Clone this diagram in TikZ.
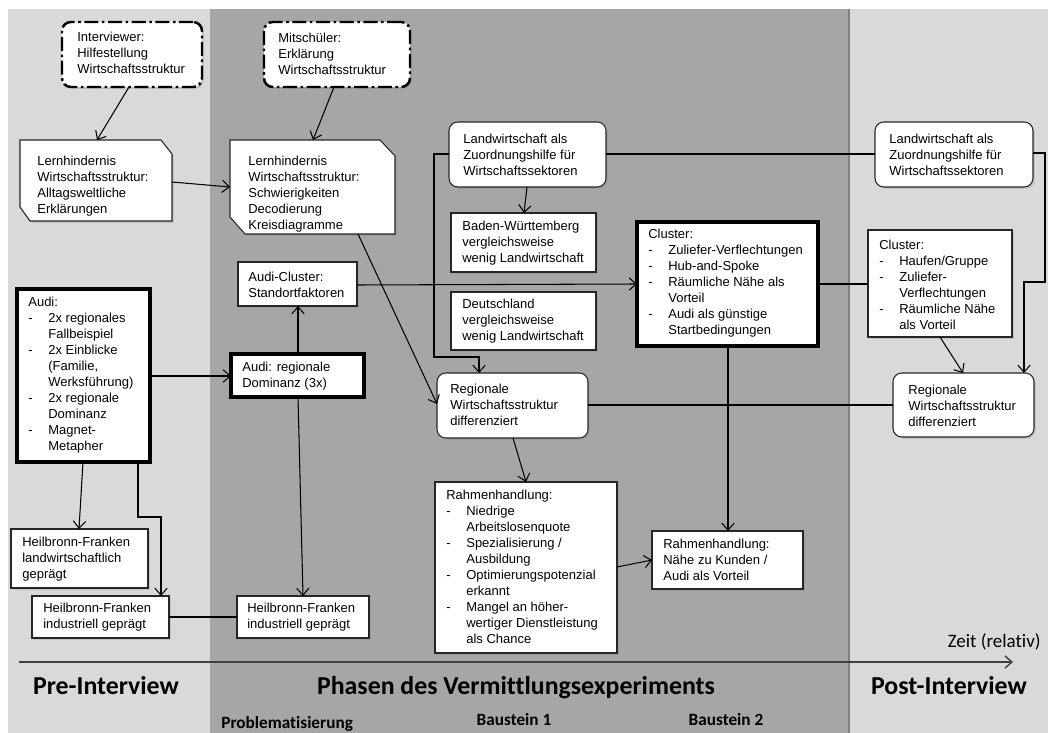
\documentclass[tikz,border=0pt]{standalone}
\usepackage{fontspec}
\setmainfont{Liberation Sans}
\newfontfamily\headfont{Carlito}[Ligatures=NoCommon]
\usetikzlibrary{calc,arrows.meta,shadows}
\definecolor{lg}{HTML}{D9D9D9}
\definecolor{dg}{HTML}{A6A6A6}
\newcommand\itm{\makebox[0.4cm][l]{-}}
\newcommand\ind{\hspace*{0.4cm}}
\newcommand\B[6]{\node[#2, minimum width={(#5-#3)*0.02cm}, minimum height={(#6-#4)*0.02cm}] (#1) at ({(#3+#5)/2},{(#4+#6)/2}) {};}
\newcommand\T[4]{\node[txt] (#1) at (#2,#3) {#4};}
\begin{document}
\begin{tikzpicture}[x=0.02cm, y=-0.02cm,
  >={Straight Barb[length=4pt,width=7pt]},
  shd/.style={drop shadow={shadow xshift=1pt,shadow yshift=-1pt,opacity=0.25}},
  box/.style={draw=black!85, fill=white, line width=0.6pt, shd, inner sep=0pt, outer sep=0pt},
  rbox/.style={box, rounded corners=5pt},
  tbox/.style={box, line width=1.8pt, draw=black},
  ddbox/.style={box, rounded corners=5pt, line width=1.4pt, draw=black, dash pattern=on 8pt off 2pt on 1.5pt off 2pt},
  ghost/.style={inner sep=0pt, outer sep=0pt},
  chamf/.style={draw=black!85, fill=white, line width=0.6pt, shd},
  txt/.style={anchor=west, align=left, inner sep=0pt, font=\fontsize{7.4}{9.1}\selectfont},
  con/.style={draw=black, line width=0.6pt},
  head/.style={inner sep=0pt, anchor=base, font=\headfont\bfseries\fontsize{14.7}{16}\selectfont},
  sub/.style={inner sep=0pt, anchor=base, font=\headfont\bfseries\fontsize{9.8}{11}\selectfont},
  zeit/.style={inner sep=0pt, anchor=base east, font=\headfont\fontsize{10.8}{12}\selectfont}
]
\useasboundingbox (0,0) rectangle (1048,733);
% background panels
\fill[white] (0,0) rectangle (1048,733);
\fill[lg] (8,9) rectangle (210,733);
\fill[dg] (210,9) rectangle (849,733);
\fill[lg] (849,9) rectangle (1048,733);
\draw[black!50, line width=0.6pt] (849,9) -- (849,733);

% boxes
\B{intv}{ddbox}{62}{22}{202}{87}
\B{mits}{ddbox}{264}{22}{410}{87}
\B{lhl}{ghost}{20}{140}{172}{221}
\filldraw[chamf] (lhl.north west) -- ($(lhl.north east)+(-11,0)$) -- ($(lhl.north east)+(0,14)$) -- (lhl.south east) -- ($(lhl.south west)+(10,0)$) -- ($(lhl.south west)+(0,-14)$) -- cycle;
\B{lhm}{ghost}{230}{140}{395}{234}
\filldraw[chamf] (lhm.north west) -- ($(lhm.north east)+(-15,0)$) -- ($(lhm.north east)+(0,16)$) -- (lhm.south east) -- ($(lhm.south west)+(15,0)$) -- ($(lhm.south west)+(0,-17)$) -- cycle;
\B{lwm}{rbox}{449}{122}{606}{187}
\B{bw}{box}{451}{213}{596}{272}
\B{de}{box}{451}{292}{596}{350}
\B{clm}{tbox}{637}{222}{818}{346}
\B{lwr}{rbox}{875}{122}{1033}{187}
\B{clr}{box}{868}{230}{1012}{337}
\B{rwr}{rbox}{893}{373}{1034}{437}
\B{acl}{box}{238}{262}{357}{306}
\B{audi}{tbox}{17}{289}{150}{462}
\B{adom}{tbox}{231}{354}{364}{397}
\B{hfl}{box}{11}{529}{148}{588}
\B{hfi}{box}{32}{596}{169}{638}
\B{hfm}{box}{237}{596}{369}{638}
\B{rwm}{rbox}{437}{373}{588}{438}
\B{rhl}{box}{435}{482}{617}{653}
\B{rhr}{box}{652}{531}{803}{589}

% texts
\T{intv-t}{77}{53}{Interviewer:\\Hilfestellung\\Wirtschaftsstruktur}
\T{mits-t}{278}{54}{Mitschüler:\\Erklärung\\Wirtschaftsstruktur}
\T{lhl-t}{37}{186.5}{Lernhindernis\\Wirtschaftsstruktur:\\Alltagsweltliche\\Erklärungen}
\T{lhm-t}{248}{194.5}{Lernhindernis\\Wirtschaftsstruktur:\\Schwierigkeiten\\Decodierung\\Kreisdiagramme}
\T{lwm-t}{463}{155}{Landwirtschaft als\\Zuordnungshilfe für\\Wirtschaftssektoren}
\T{bw-t}{462}{243}{Baden-Württemberg\\vergleichsweise\\wenig Landwirtschaft}
\T{de-t}{462}{321.5}{Deutschland\\vergleichsweise\\wenig Landwirtschaft}
\T{clm-t}{648}{283}{Cluster:\\\itm Zuliefer-Verflechtungen\\\itm Hub-and-Spoke\\\itm Räumliche Nähe als\\\ind Vorteil\\\itm Audi als günstige\\\ind Startbedingungen}
\T{lwr-t}{889}{155}{Landwirtschaft als\\Zuordnungshilfe für\\Wirtschaftssektoren}
\T{clr-t}{879}{284.5}{Cluster:\\\itm Haufen/Gruppe\\\itm Zuliefer-\\\ind Verflechtungen\\\itm Räumliche Nähe\\\ind als Vorteil}
\T{rwr-t}{908}{406}{Regionale\\Wirtschaftsstruktur\\differenziert}
\T{acl-t}{248}{285}{Audi-Cluster:\\Standortfaktoren}
\T{audi-t}{28}{375}{Audi:\\\itm 2x regionales\\\ind Fallbeispiel\\\itm 2x Einblicke\\\ind (Familie,\\\ind Werksführung)\\\itm 2x regionale\\\ind Dominanz\\\itm Magnet-\\\ind Metapher}
\T{adom-t}{242}{376}{Audi: regionale\\Dominanz (3x)}
\T{hfl-t}{22}{559}{Heilbronn-Franken\\landwirtschaftlich\\geprägt}
\T{hfi-t}{43}{617.5}{Heilbronn-Franken\\industriell geprägt}
\T{hfm-t}{247}{617.5}{Heilbronn-Franken\\industriell geprägt}
\T{rwm-t}{450}{405}{Regionale\\Wirtschaftsstruktur\\differenziert}
\T{rhl-t}{446}{566.5}{Rahmenhandlung:\\\itm Niedrige\\\ind Arbeitslosenquote\\\itm Spezialisierung /\\\ind Ausbildung\\\itm Optimierungspotenzial\\\ind erkannt\\\itm Mangel an höher-\\\ind wertiger Dienstleistung\\\ind als Chance}
\T{rhr-t}{663}{559.5}{Rahmenhandlung:\\Nähe zu Kunden /\\Audi als Vorteil}

% connectors
\draw[con,->] ($(intv.south west)+(67,0)$) -- ($(lhl.north west)+(77,0)$);
\draw[con,->] ($(mits.south west)+(70,0)$) -- ($(lhm.north west)+(83,0)$);
\draw[con,->] ($(lhl.north east)+(0,42)$) -- ($(lhm.north west)+(0,47)$);
\draw[con,->] ($(lhm.south west)+(128,0)$) -- ($(rwm.north west)+(0,31)$);
\draw[con,->] ($(lwm.south west)+(78,0)$) -- ($(bw.north west)+(73,0)$);
\draw[con,->] ($(lwm.north west)+(0,32)$) -- ++(-15,0) |- ($(rwm.north west)+(42,-16)$) -- ($(rwm.north west)+(42,0)$);
\draw[con] ($(lwm.north east)+(0,32)$) -- ($(lwr.north west)+(0,32)$);
\draw[con,->] ($(lwr.north east)+(0,31)$) -- ++(12,0) -- ++(0,129) -| ($(rwr.north west)+(131,0)$);
\draw[con,->] ($(acl.north east)+(0,23)$) -- ($(clm.north west)+(0,62)$);
\draw[con] ($(clm.north east)+(0,62)$) -- ($(clr.north west)+(0,54)$);
\draw[con,->] ($(clr.south west)+(72,0)$) -- ($(rwr.north west)+(70,0)$);
\draw[con] ($(rwm.north east)+(0,32)$) -- ($(rwr.north west)+(0,32)$);
\draw[con,->] ($(clm.south west)+(91,0)$) -- ($(rhr.north west)+(76,0)$);
\draw[con,->] ($(rwm.south west)+(76,0)$) -- ($(rhl.north west)+(91,0)$);
\draw[con,->] ($(rhl.north east)+(0,85)$) -- ($(rhr.north west)+(0,29)$);
\draw[con,->] ($(audi.north east)+(0,87)$) -- ($(adom.north west)+(0,22)$);
\draw[con,->] ($(adom.north west)+(67,0)$) -- ($(acl.south west)+(60,0)$);
\draw[con,->] ($(adom.south west)+(67,0)$) -- ($(hfm.north west)+(66,0)$);
\draw[con,->] ($(audi.south west)+(66,0)$) -- ($(hfl.north west)+(68,0)$);
\draw[con,->] ($(audi.south west)+(121,0)$) -- ++(0,55) -| ($(hfi.north west)+(129,0)$);
\draw[con] ($(hfi.north east)+(0,21)$) -- ($(hfm.north west)+(0,21)$);

% time axis
\coordinate (ax0) at (19,662);
\coordinate (ax1) at (1013,662);
\draw[black!75, line width=0.8pt, ->] (ax0) -- (ax1);
\node[zeit] (zeit) at (1041,647) {Zeit (relativ)};

% headings
\node[head] (pre) at (106,694) {Pre-Interview};
\node[head] (pha) at (516,694) {Phasen des Vermittlungsexperiments};
\node[head] (post) at (949,694) {Post-Interview};
\node[sub, anchor=base west] (prob) at (221,728) {Problematisierung};
\node[sub] (b1) at (514,725) {Baustein 1};
\node[sub] (b2) at (726,725) {Baustein 2};
\end{tikzpicture}
\end{document}
